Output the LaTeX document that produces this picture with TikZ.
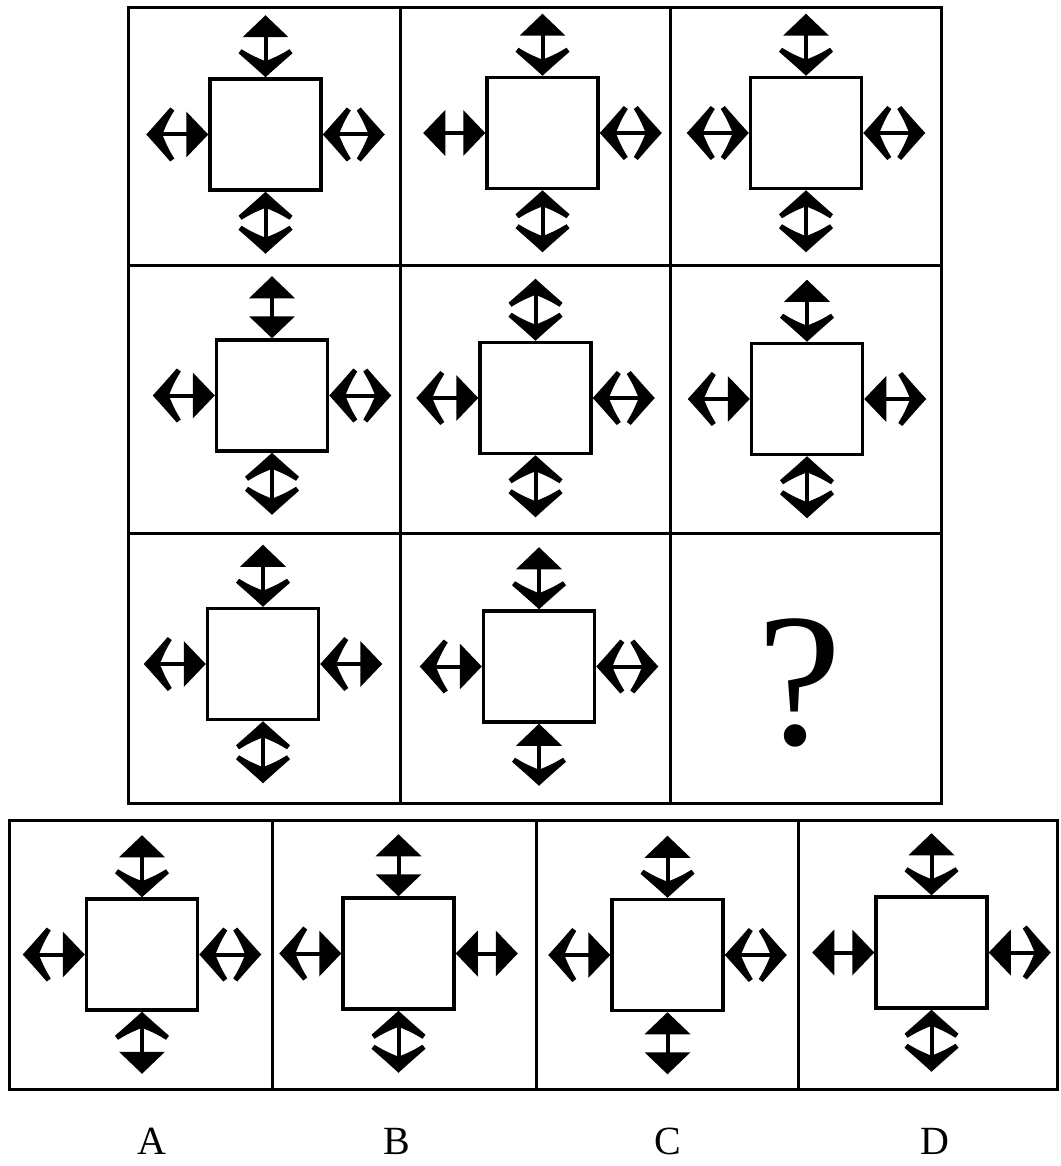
\documentclass[tikz,border=0pt]{standalone}
\usepackage{fontspec}
\setmainfont{Liberation Serif}
\usepackage{tikz}
\usetikzlibrary{positioning}
\tikzset{
  frame/.style = {draw=black, line width=3pt},
  sq/.style    = {rectangle, draw=black, line width=3.5pt, fill=white,
                  minimum size=111pt, inner sep=0pt},
  shaft/.style = {line width=4pt},
  lbl/.style   = {font=\fontsize{40}{44}\selectfont},
  qmark/.style = {font=\fontsize{190}{200}\selectfont},
}
% filled and open heads, tip at origin, pointing along +x
\newcommand\headF{\fill (0,0) -- (-22,23) -- (-22,-23) -- cycle;}
\newcommand\headO{\fill (0,0) .. controls (-10,11) .. (-24,27) -- (-28,24)
  .. controls (-22,14) .. (-16,0) .. controls (-22,-14) .. (-28,-24)
  -- (-24,-27) .. controls (-10,-11) .. (0,0) -- cycle;}
% #1 node, #2 anchor, #3 direction, #4 outer head, #5 inner head
\newcommand\twoway[5]{%
  \begin{scope}[shift={(#1.#2)}, rotate=#3]
    \draw[shaft] (3,0) -- (59,0);
    \begin{scope}[shift={(62,0)}]\csname head#4\endcsname\end{scope}
    \begin{scope}[rotate=180]\csname head#5\endcsname\end{scope}
  \end{scope}}
\newcommand\cross[9]{% node, then outer/inner for top, left, right, bottom
  \twoway{#1}{north}{90}{#2}{#3}
  \twoway{#1}{west}{180}{#4}{#5}
  \twoway{#1}{east}{0}{#6}{#7}
  \twoway{#1}{south}{270}{#8}{#9}}

\begin{document}
\begin{tikzpicture}[x=1pt, y=-1pt]
  \useasboundingbox (0,0) rectangle (1060,1166);

  % 3x3 grid
  \draw[frame] (128,8) rectangle (941,803);
  \draw[frame] (400,8) -- (400,803);
  \draw[frame] (670,8) -- (670,803);
  \draw[frame] (128,265) -- (941,265);
  \draw[frame] (128,533) -- (941,533);

  % answer row
  \draw[frame] (9,820) rectangle (1057,1089);
  \draw[frame] (272,820) -- (272,1089);
  \draw[frame] (536,820) -- (536,1089);
  \draw[frame] (798,820) -- (798,1089);

  \node[sq] (s1) at (265.5,134.5) {};
  \node[sq] (s2) at (542.5,133) {};
  \node[sq] (s3) at (806,133) {};
  \node[sq] (s4) at (272,395.5) {};
  \node[sq] (s5) at (535.5,398) {};
  \node[sq] (s6) at (807,399) {};
  \node[sq] (s7) at (263,664) {};
  \node[sq] (s8) at (539,666.5) {};
  \node[qmark] (q) at (800,683) {?};

  \node[sq] (oa) at (142,954.5) {};
  \node[sq] (ob) at (398.5,953.5) {};
  \node[sq] (oc) at (667.5,955) {};
  \node[sq] (od) at (931.5,952.5) {};

  \cross{s1}{F}{O}{O}{F}{O}{O}{O}{O}
  \cross{s2}{F}{O}{F}{F}{O}{O}{O}{O}
  \cross{s3}{F}{O}{O}{O}{O}{O}{O}{O}
  \cross{s4}{F}{F}{O}{F}{O}{O}{O}{O}
  \cross{s5}{O}{O}{O}{F}{O}{O}{O}{O}
  \cross{s6}{F}{O}{O}{F}{O}{F}{O}{O}
  \cross{s7}{F}{O}{O}{F}{F}{O}{O}{O}
  \cross{s8}{F}{O}{O}{F}{O}{O}{O}{F}

  \cross{oa}{F}{O}{O}{F}{O}{O}{F}{O}
  \cross{ob}{F}{F}{O}{F}{F}{F}{O}{O}
  \cross{oc}{F}{O}{O}{F}{O}{O}{F}{F}
  \cross{od}{F}{O}{F}{F}{O}{F}{O}{O}

  \node[lbl] (la) at (152,1141) {A};
  \node[lbl] (lb) at (397,1141) {B};
  \node[lbl] (lc) at (668,1141) {C};
  \node[lbl] (ld) at (935,1141) {D};
\end{tikzpicture}
\end{document}
